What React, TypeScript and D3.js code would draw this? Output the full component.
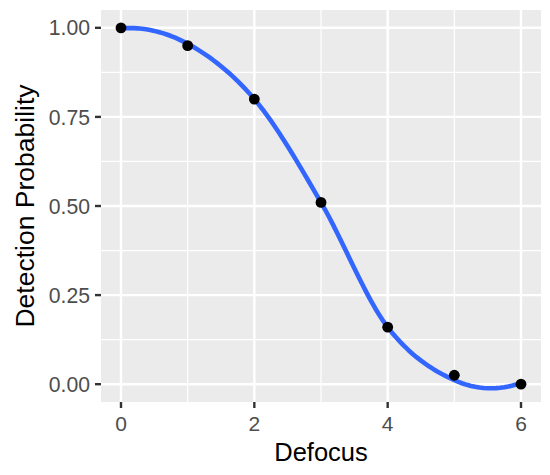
import React from 'react';
import * as d3 from 'd3';

const defocus = [0, 1, 2, 3, 4, 5, 6];
const detection = [1.0, 0.95, 0.8, 0.51, 0.16, 0.025, 0.0];
const xTicks = [0, 2, 4, 6];
const xMinor = [1, 3, 5];
const yTicks = [0, 0.25, 0.5, 0.75, 1];
const yMinor = [0.125, 0.375, 0.625, 0.875];

const width = 550;
const height = 475;
const margin = { top: 10, right: 9, bottom: 73, left: 101 };

// local quadratic fit with tricube weights, returns [value, slope] at x0
function loessFit(xs: number[], ys: number[], span: number, x0: number) {
    const n = xs.length;
    const q = Math.floor(n * span);
    const dists = xs.map(x => Math.abs(x - x0)).sort((a, b) => a - b);
    const h = dists[q - 1] * 1.001;
    const A = [[0, 0, 0], [0, 0, 0], [0, 0, 0]];
    const b = [0, 0, 0];
    xs.forEach((x, i) => {
        const u = Math.abs(x - x0) / h;
        if (u >= 1) return;
        const w = Math.pow(1 - u * u * u, 3);
        const d = x - x0;
        const v = [1, d, d * d];
        for (let r = 0; r < 3; r++) {
            b[r] += w * v[r] * ys[i];
            for (let c = 0; c < 3; c++) A[r][c] += w * v[r] * v[c];
        }
    });
    for (let k = 0; k < 3; k++) {
        let p = k;
        for (let r = k + 1; r < 3; r++) if (Math.abs(A[r][k]) > Math.abs(A[p][k])) p = r;
        [A[k], A[p]] = [A[p], A[k]];
        [b[k], b[p]] = [b[p], b[k]];
        for (let r = k + 1; r < 3; r++) {
            const f = A[r][k] / A[k][k];
            for (let c = k; c < 3; c++) A[r][c] -= f * A[k][c];
            b[r] -= f * b[k];
        }
    }
    const sol = [0, 0, 0];
    for (let k = 2; k >= 0; k--) {
        let s = b[k];
        for (let c = k + 1; c < 3; c++) s -= A[k][c] * sol[c];
        sol[k] = s / A[k][k];
    }
    return [sol[0], sol[1]];
}

// fit at the data x values, then cubic hermite between them (as loess' interpolate surface does)
function smoothCurve(xs: number[], ys: number[], span: number) {
    const fits = xs.map(x => loessFit(xs, ys, span, x));
    const out: { x: number; y: number }[] = [];
    for (let i = 0; i < xs.length - 1; i++) {
        const xa = xs[i], xb = xs[i + 1], hh = xb - xa;
        const [ya, ma] = fits[i];
        const [yb, mb] = fits[i + 1];
        const steps = 16;
        for (let s = 0; s <= steps; s++) {
            if (i > 0 && s === 0) continue;
            const t = s / steps;
            const h00 = 2 * t ** 3 - 3 * t ** 2 + 1;
            const h10 = t ** 3 - 2 * t ** 2 + t;
            const h01 = -2 * t ** 3 + 3 * t ** 2;
            const h11 = t ** 3 - t ** 2;
            out.push({ x: xa + t * hh, y: h00 * ya + h10 * hh * ma + h01 * yb + h11 * hh * mb });
        }
    }
    return out;
}

const App = () => {
    const innerW = width - margin.left - margin.right;
    const innerH = height - margin.top - margin.bottom;

    const x = d3.scaleLinear().domain([-0.3, 6.3]).range([margin.left, margin.left + innerW]);
    const y = d3.scaleLinear().domain([-0.05, 1.05]).range([margin.top + innerH, margin.top]);

    const pts = defocus.map((d, i) => ({ x: d, y: detection[i] }));
    const smooth = smoothCurve(defocus, detection, 0.75);

    const line = d3.line<{ x: number; y: number }>()
        .x(d => x(d.x))
        .y(d => y(d.y));

    const font = '"Liberation Sans", Arial, sans-serif';
    const x0 = margin.left;
    const x1 = margin.left + innerW;
    const y0 = margin.top;
    const y1 = margin.top + innerH;

    return (
        <svg width={width} height={height} style={{ position: 'absolute', left: 0, top: 0 }}>
            <rect x={0} y={0} width={width} height={height} fill="#ffffff" />
            <rect x={x0} y={y0} width={innerW} height={innerH} fill="#EBEBEB" />
            {xMinor.map(t => (
                <line key={'xm' + t} x1={x(t)} x2={x(t)} y1={y0} y2={y1} stroke="#fff" strokeWidth={1.2} />
            ))}
            {yMinor.map(t => (
                <line key={'ym' + t} x1={x0} x2={x1} y1={y(t)} y2={y(t)} stroke="#fff" strokeWidth={1.2} />
            ))}
            {xTicks.map(t => (
                <line key={'xg' + t} x1={x(t)} x2={x(t)} y1={y0} y2={y1} stroke="#fff" strokeWidth={2.4} />
            ))}
            {yTicks.map(t => (
                <line key={'yg' + t} x1={x0} x2={x1} y1={y(t)} y2={y(t)} stroke="#fff" strokeWidth={2.4} />
            ))}
            <path d={line(smooth) || ''} fill="none" stroke="#3366FF" strokeWidth={4.6} strokeLinejoin="round" />
            {pts.map(p => (
                <circle key={p.x} cx={x(p.x)} cy={y(p.y)} r={5.4} fill="#000" />
            ))}
            {xTicks.map(t => (
                <g key={'xt' + t}>
                    <line x1={x(t)} x2={x(t)} y1={y1} y2={y1 + 6} stroke="#333" strokeWidth={2.4} />
                    <text x={x(t)} y={431} textAnchor="middle" fontFamily={font} fontSize={21} fill="#4D4D4D">
                        {d3.format('d')(t)}
                    </text>
                </g>
            ))}
            {yTicks.map(t => (
                <g key={'yt' + t}>
                    <line x1={x0 - 6} x2={x0} y1={y(t)} y2={y(t)} stroke="#333" strokeWidth={2.4} />
                    <text x={x0 - 11} y={y(t)} dy="0.36em" textAnchor="end" fontFamily={font} fontSize={21.2} fill="#4D4D4D">
                        {d3.format('.2f')(t)}
                    </text>
                </g>
            ))}
            <text x={(x0 + x1) / 2} y={461} textAnchor="middle" fontFamily={font} fontSize={25.5} fill="#000">
                Defocus
            </text>
            <text
                transform={`translate(34,${(y0 + y1) / 2}) rotate(-90)`}
                textAnchor="middle"
                fontFamily={font}
                fontSize={26.5}
                fill="#000"
            >
                Detection Probability
            </text>
        </svg>
    );
};

export default App;
